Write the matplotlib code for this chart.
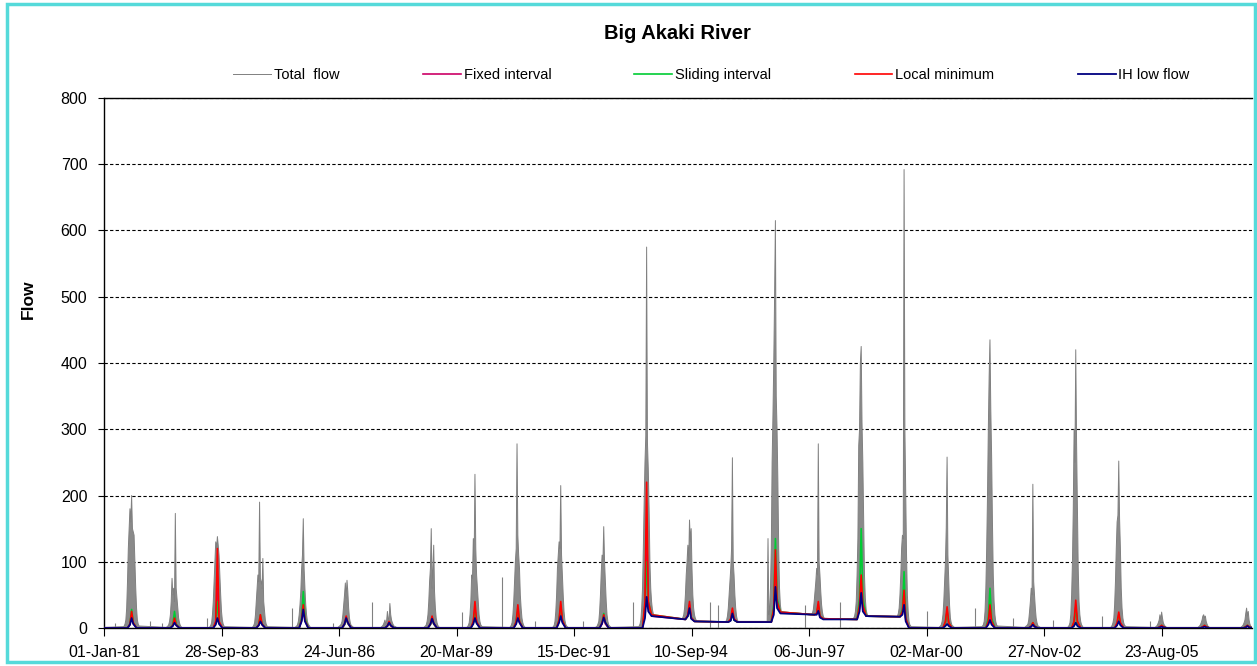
import matplotlib.pyplot as plt
import matplotlib.dates as mdates
from matplotlib.patches import Rectangle
import numpy as np
import pandas as pd

plt.rcParams['font.family'] = ['Liberation Sans', 'DejaVu Sans']

years = list(range(1981, 2008))

# weekly total flow through each wet season, first reading on 15 June
total_weekly = [
    [2, 3, 6, 12, 30, 70, 120, 150, 180, 160, 200, 150, 145, 140, 100, 60, 30, 12, 6, 3],
    [1, 2, 3, 5, 10, 20, 40, 75, 50, 60, 40, 173, 60, 45, 30, 15, 8, 4, 2, 1],
    [1, 2, 4, 8, 20, 40, 70, 100, 130, 120, 138, 125, 110, 80, 50, 25, 12, 6, 3, 2],
    [1, 2, 4, 8, 20, 40, 60, 80, 70, 190, 75, 70, 60, 105, 40, 25, 12, 6, 3, 2],
    [1, 2, 3, 5, 10, 20, 35, 55, 90, 110, 165, 90, 60, 35, 20, 10, 6, 4, 2, 1],
    [1, 2, 3, 4, 6, 10, 20, 35, 50, 68, 45, 72, 55, 30, 15, 8, 4, 3, 2, 1],
    [1, 2, 3, 5, 8, 12, 6, 10, 25, 15, 8, 37, 20, 12, 8, 5, 3, 2, 2, 1],
    [1, 2, 3, 5, 10, 20, 40, 70, 90, 150, 60, 90, 125, 55, 30, 15, 8, 4, 2, 1],
    [1, 2, 4, 8, 20, 40, 80, 75, 135, 100, 232, 120, 80, 60, 40, 20, 10, 5, 3, 2],
    [1, 2, 4, 8, 20, 40, 70, 100, 120, 278, 140, 110, 90, 50, 30, 15, 8, 4, 2, 1],
    [1, 2, 4, 10, 25, 50, 90, 110, 130, 120, 215, 110, 80, 50, 25, 12, 6, 3, 2, 1],
    [1, 2, 3, 6, 10, 25, 50, 85, 110, 100, 153, 100, 70, 40, 20, 10, 5, 3, 2, 1],
    [2, 3, 6, 12, 30, 60, 120, 190, 250, 290, 575, 280, 240, 180, 100, 60, 40, 28, 22, 18],
    [13, 14, 16, 20, 30, 50, 80, 100, 125, 100, 163, 130, 150, 90, 50, 30, 20, 15, 12, 10],
    [9, 9, 10, 12, 18, 30, 50, 70, 90, 120, 257, 100, 80, 50, 30, 18, 12, 10, 10, 10],
    [10, 135, 20, 30, 60, 120, 250, 320, 400, 500, 615, 350, 300, 220, 120, 60, 35, 26, 24, 22],
    [20, 20, 21, 23, 28, 40, 55, 70, 90, 80, 278, 100, 80, 55, 35, 24, 18, 15, 14, 14],
    [14, 15, 18, 25, 40, 80, 135, 275, 300, 400, 425, 310, 250, 160, 80, 45, 28, 22, 19, 17],
    [17, 17, 18, 22, 30, 50, 80, 120, 140, 135, 692, 300, 200, 110, 50, 25, 10, 5, 3, 2],
    [1, 2, 3, 5, 10, 20, 40, 70, 100, 152, 258, 110, 70, 35, 15, 8, 4, 3, 2, 1],
    [2, 3, 5, 10, 25, 60, 120, 200, 300, 380, 435, 330, 260, 160, 80, 40, 20, 10, 5, 3],
    [1, 2, 3, 4, 6, 12, 25, 40, 60, 50, 217, 70, 50, 30, 15, 8, 4, 2, 2, 1],
    [1, 2, 4, 8, 20, 50, 100, 180, 300, 250, 420, 280, 180, 90, 40, 20, 10, 5, 3, 1],
    [1, 2, 4, 8, 15, 35, 70, 120, 160, 170, 252, 165, 120, 60, 30, 15, 8, 4, 3, 2],
    [1, 1, 1, 2, 3, 5, 8, 12, 20, 10, 24, 15, 8, 5, 3, 2, 1, 1, 1, 1],
    [1, 1, 1, 2, 3, 5, 8, 12, 18, 20, 15, 18, 10, 6, 3, 2, 1, 1, 1, 1],
    [1, 1, 1, 2, 3, 5, 8, 12, 22, 30, 18, 25, 12, 6, 3, 2, 1, 1, 1, 1],
]

# baseflow separations, read at these days after 15 June each year
knot_days = [35, 56, 70, 84, 112]

fixed_interval = [
    [0, 5, 20, 7, 0], [0, 4, 12, 5, 0], [0, 8, 60, 8, 0], [0, 4, 15, 5, 0],
    [0, 12, 38, 12, 0], [0, 5, 15, 7, 0], [0, 3, 8, 3, 0], [0, 5, 15, 6, 0],
    [0, 8, 30, 8, 0], [0, 8, 25, 8, 0], [0, 10, 30, 10, 0], [0, 6, 18, 6, 0],
    [0, 30, 150, 35, 18], [13, 18, 35, 15, 10], [9, 12, 26, 12, 9],
    [9, 28, 90, 35, 24], [20, 21, 32, 16, 14], [13, 30, 65, 30, 18],
    [17, 22, 45, 12, 0], [0, 8, 25, 6, 0], [0, 8, 28, 8, 0], [0, 2, 6, 2, 0],
    [0, 8, 32, 8, 0], [0, 6, 18, 6, 0], [0, 1, 3, 1, 0], [0, 1, 3, 1, 0],
    [0, 1, 3, 1, 0],
]

sliding_interval = [
    [0, 6, 28, 8, 0], [0, 5, 25, 6, 0], [0, 8, 40, 8, 0], [0, 5, 20, 6, 0],
    [0, 15, 55, 15, 0], [0, 5, 15, 7, 0], [0, 3, 8, 4, 0], [0, 5, 15, 6, 0],
    [0, 8, 25, 8, 0], [0, 10, 30, 10, 0], [0, 12, 35, 12, 0], [0, 8, 22, 8, 0],
    [0, 35, 100, 40, 20], [13, 18, 30, 16, 10], [9, 12, 25, 12, 9],
    [9, 35, 135, 45, 24], [20, 22, 35, 18, 14], [13, 45, 150, 45, 18],
    [17, 28, 85, 15, 0], [0, 8, 25, 8, 0], [0, 15, 60, 15, 0], [0, 3, 8, 3, 0],
    [0, 8, 30, 8, 0], [0, 6, 20, 6, 0], [0, 2, 4, 2, 0], [0, 2, 4, 2, 0],
    [0, 2, 4, 2, 0],
]

local_minimum = [
    [0, 6, 25, 8, 0], [0, 4, 15, 5, 0], [0, 10, 120, 10, 0], [0, 5, 20, 6, 0],
    [0, 12, 35, 12, 0], [0, 6, 18, 8, 0], [0, 3, 10, 4, 0], [0, 6, 18, 7, 0],
    [0, 10, 40, 10, 0], [0, 10, 35, 10, 0], [0, 12, 40, 12, 0], [0, 8, 20, 8, 0],
    [0, 40, 220, 40, 20], [13, 20, 40, 16, 10], [9, 14, 30, 14, 9],
    [9, 30, 118, 40, 24], [20, 22, 40, 18, 14], [13, 35, 80, 35, 18],
    [17, 25, 57, 15, 0], [0, 10, 32, 8, 0], [0, 10, 35, 10, 0], [0, 3, 8, 3, 0],
    [0, 10, 42, 10, 0], [0, 8, 24, 8, 0], [0, 2, 4, 2, 0], [0, 2, 4, 2, 0],
    [0, 2, 4, 2, 0],
]

ih_low_flow = [
    [0, 5, 15, 6, 0], [0, 3, 8, 4, 0], [0, 5, 15, 6, 0], [0, 4, 10, 5, 0],
    [0, 10, 28, 10, 0], [0, 6, 15, 8, 0], [0, 3, 8, 4, 0], [0, 6, 14, 7, 0],
    [0, 6, 15, 7, 0], [0, 6, 15, 8, 0], [0, 8, 18, 8, 0], [0, 7, 16, 8, 0],
    [0, 15, 47, 25, 18], [13, 18, 30, 14, 10], [9, 11, 22, 12, 9],
    [9, 20, 62, 30, 22], [20, 20, 26, 16, 13], [13, 25, 53, 25, 18],
    [17, 20, 35, 10, 0], [0, 3, 6, 3, 0], [0, 5, 12, 5, 0], [0, 2, 5, 2, 0],
    [0, 3, 8, 3, 0], [0, 4, 10, 4, 0], [0, 1, 2, 1, 0], [0, 1, 2, 1, 0],
    [0, 1, 3, 1, 0],
]

# short storm peaks in the dry months
storm_dates = ["1981-04-04", "1982-01-27", "1982-05-10", "1983-05-27", "1985-05-20",
               "1986-05-04", "1987-04-01", "1989-05-05", "1990-04-10", "1991-01-16",
               "1992-02-29", "1993-04-29", "1995-02-13", "1995-04-22", "1997-05-03",
               "1998-02-24", "2000-03-05", "2001-04-17", "2002-03-07", "2003-02-10",
               "2004-04-03", "2005-05-16"]
storm_flows = [8, 10, 8, 15, 30, 8, 40, 24, 77, 10, 10, 40, 40, 35, 35, 40,
               25, 30, 15, 12, 18, 10]

record_dates = ["1981-01-01", "2007-10-02"]
record_total = [1, 2]
record_base = [0, 0]

tick_labels = ["01-Jan-81", "28-Sep-83", "24-Jun-86", "20-Mar-89", "15-Dec-91",
               "10-Sep-94", "06-Jun-97", "02-Mar-00", "27-Nov-02", "23-Aug-05"]


def build(rows, offsets, first, last):
    x = [pd.Timestamp(record_dates[0])]
    y = [first]
    for year, row in zip(years, rows):
        start = pd.Timestamp(f"{year}-06-15")
        for off, v in zip(offsets, row):
            d = start + pd.Timedelta(days=off)
            if d < pd.Timestamp(record_dates[1]):
                x.append(d)
                y.append(v)
    x.append(pd.Timestamp(record_dates[1]))
    y.append(last)
    return mdates.date2num(x), np.array(y, dtype=float)


week_days = [7 * k for k in range(20)]
tx, ty = build(total_weekly, week_days, record_total[0], record_total[1])
fx, fy = build(fixed_interval, knot_days, record_base[0], record_base[1])
sx, sy = build(sliding_interval, knot_days, record_base[0], record_base[1])
lx, ly = build(local_minimum, knot_days, record_base[0], record_base[1])
ix, iy = build(ih_low_flow, knot_days, record_base[0], record_base[1])

fig = plt.figure(figsize=(12.57, 6.66), dpi=100)
ax = fig.add_axes([104 / 1257, 38 / 666, 1148 / 1257, 530 / 666])

gray = '#808080'
# area between total flow and IH baseflow
ax.fill(np.concatenate([tx, ix[::-1]]), np.concatenate([ty, iy[::-1]]),
        color='#8a8a8a', lw=0, zorder=2)
ax.plot(tx, ty, color=gray, lw=0.7, label='Total  flow', zorder=3)
ax.vlines(mdates.date2num(pd.to_datetime(storm_dates)), 0, storm_flows,
          color=gray, lw=0.8, zorder=3)
ax.plot(fx, fy, color='#cc0066', lw=1.2, label='Fixed interval', zorder=4)
ax.plot(sx, sy, color='#00cc33', lw=1.2, label='Sliding interval', zorder=5)
ax.plot(lx, ly, color='#ff0000', lw=1.2, label='Local minimum', zorder=6)
ax.plot(ix, iy, color='#000080', lw=1.3, label='IH low flow', zorder=7)

start = pd.Timestamp(record_dates[0])
ax.set_xlim(mdates.date2num(start), mdates.date2num(start + pd.Timedelta(days=9770)))
ax.set_ylim(0, 800)
ticks = [start + pd.Timedelta(days=1000 * k) for k in range(10)]
ax.set_xticks(mdates.date2num(ticks))
ax.set_xticklabels(tick_labels)
ax.set_yticks(range(0, 801, 100))

ax.yaxis.grid(True, color='black', linestyle=(0, (3, 2)), lw=0.8)
ax.set_axisbelow(True)
ax.spines['right'].set_visible(False)
for side in ['left', 'bottom', 'top']:
    ax.spines[side].set_color('black')
    ax.spines[side].set_linewidth(1.0)
ax.tick_params(axis='both', labelsize=11.5, colors='black', direction='out')
ax.tick_params(axis='x', length=6, pad=6)
ax.tick_params(axis='y', length=4, pad=8)

ax.set_ylabel('Flow', fontsize=12.5, fontweight='bold')
ax.yaxis.set_label_coords(-0.059, 0.62)

fig.text(0.539, 0.95, 'Big Akaki River', ha='center', va='center',
         fontsize=14.5, fontweight='bold')
fig.legend(loc='center', bbox_to_anchor=(0.566, 0.887), ncol=5, frameon=False,
           fontsize=10.5, handlelength=2.6, handletextpad=0.2, columnspacing=5.7)

fig.patches.append(Rectangle((7 / 1257, 4 / 666), 1248 / 1257, 658 / 666,
                             transform=fig.transFigure, fill=False,
                             edgecolor='#55dada', lw=2.5))

fig.savefig('out.png', dpi=100)
